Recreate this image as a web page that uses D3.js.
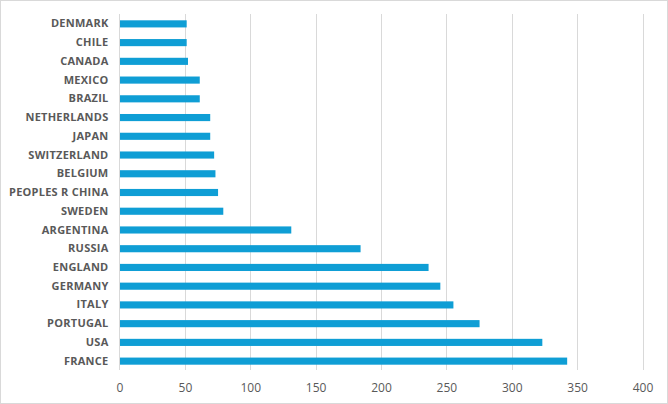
<!DOCTYPE html>
<html><head><meta charset="utf-8">
<script src="https://cdn.jsdelivr.net/npm/d3@7/dist/d3.min.js"></script>
<style>body{margin:0;background:#fff}svg{display:block}</style>
</head><body>
<svg id="c" width="668" height="404"></svg>
<script>
const categories = ["DENMARK","CHILE","CANADA","MEXICO","BRAZIL","NETHERLANDS","JAPAN","SWITZERLAND","BELGIUM","PEOPLES R CHINA","SWEDEN","ARGENTINA","RUSSIA","ENGLAND","GERMANY","ITALY","PORTUGAL","USA","FRANCE"];
const values = [51,51,52,61,61,69,69,72,73,75,79,131,184,236,245,255,275,323,342];
const xTicks = [0,50,100,150,200,250,300,350,400];

const svg = d3.select("#c");
const W=668,H=404;
svg.append("rect").attr("x",0.5).attr("y",0.5).attr("width",W-1).attr("height",H-1)
  .attr("fill","#fff").attr("stroke","#d9d9d9");

const x = d3.scaleLinear().domain([0,400]).range([119.5,642.5]);
const y = d3.scaleBand().domain(categories).range([14.5,370.5]).paddingInner(0.62).paddingOuter(0.31);

const g = svg.append("g");
g.selectAll("line.grid").data(xTicks.slice(1)).join("line")
  .attr("x1",d=>Math.round(x(d))+0.5).attr("x2",d=>Math.round(x(d))+0.5)
  .attr("y1",14).attr("y2",370).attr("stroke","#d9d9d9").attr("stroke-width",1);
g.append("line").attr("x1",119.5).attr("x2",119.5).attr("y1",14).attr("y2",370).attr("stroke","#d9d9d9");

g.selectAll("rect.bar").data(values).join("rect")
  .attr("x",x(0)+0.5).attr("y",(d,i)=>y(categories[i]))
  .attr("width",d=>x(d)-x(0)).attr("height",y.bandwidth())
  .attr("fill","#0f9ed5");

const yAxis = d3.axisLeft(y).tickSize(0).tickPadding(11);
const ya = svg.append("g").attr("transform","translate(119.5,0)").call(yAxis);
ya.select(".domain").remove();
ya.selectAll("text").attr("font-family","'Open Sans',sans-serif").attr("font-weight","bold")
  .attr("font-size","11px").attr("letter-spacing","0.25px").attr("fill","#595959");

const xAxis = d3.axisBottom(x).tickValues(xTicks).tickSize(0).tickPadding(8);
const xa = svg.append("g").attr("transform","translate(0,375)").call(xAxis);
xa.select(".domain").remove();
xa.selectAll("text").attr("font-family","'Open Sans',sans-serif")
  .attr("font-size","12px").attr("fill","#595959");
</script>
</body></html>
